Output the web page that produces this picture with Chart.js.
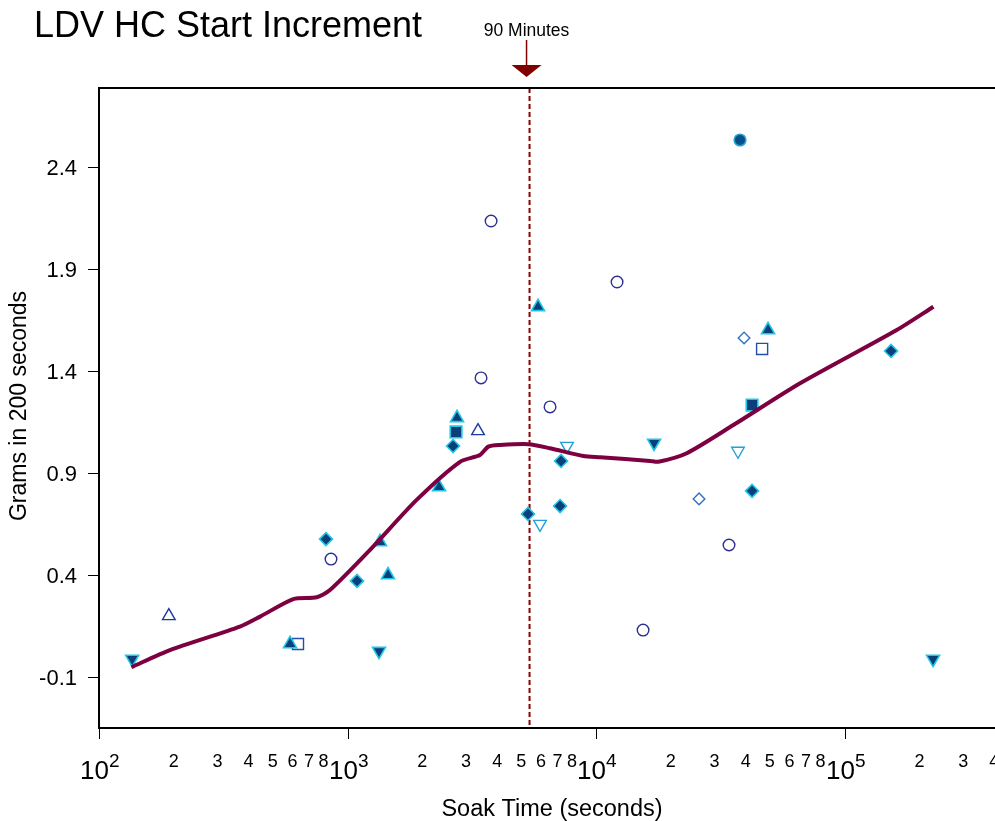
<!DOCTYPE html>
<html>
<head>
<meta charset="utf-8">
<script src="https://cdn.jsdelivr.net/npm/chart.js@4/dist/chart.umd.min.js"></script>
<style>
  body { margin: 0; background: #fff; }
  canvas { display: block; }
</style>
</head>
<body>
<canvas id="soakChart" width="995" height="821"></canvas>
<script>
// Soak time (s) vs HC start increment (g in 200 s), one array pair per marker group
const openCircleX = [858, 3445, 3781, 6530, 12150, 15460, 34280];
const openCircleY = [0.478, 1.366, 2.135, 1.224, 1.836, 0.130, 0.547];

const filledCircleX = [37960];
const filledCircleY = [2.532];

const openTriUpX = [191, 3350];
const openTriUpY = [0.199, 1.106];

const filledTriUpX = [587, 1351, 1455, 2335, 2758, 5842, 49210];
const filledTriUpY = [0.062, 0.562, 0.400, 0.831, 1.170, 1.714, 1.601];

const filledTriDownX = [136, 1339, 17120, 227000];
const filledTriDownY = [-0.012, 0.027, 1.047, -0.012];

const openTriDownX = [5950, 7640, 37240];
const openTriDownY = [0.650, 1.032, 1.008];

const filledDiamondX = [819, 1092, 2658, 5323, 7165, 7230, 42440, 153800];
const filledDiamondY = [0.576, 0.371, 1.032, 0.699, 0.738, 0.959, 0.812, 1.498];

const openDiamondX = [25970, 39410];
const openDiamondY = [0.773, 1.562];

const filledSquareX = [2733, 42440];
const filledSquareY = [1.101, 1.233];

const openSquareX = [632, 46580];
const openSquareY = [0.062, 1.508];

// smoothed trend
const curveX = [135, 193, 369, 445, 605, 752, 850, 1232, 1897, 2836, 3412, 3686, 4110, 5340, 6531, 8892, 10380, 16500, 17810, 23170, 35680, 66220, 162200, 227800];
const curveY = [-0.052, 0.032, 0.147, 0.196, 0.282, 0.291, 0.326, 0.523, 0.768, 0.955, 0.988, 1.029, 1.037, 1.041, 1.021, 0.983, 0.977, 0.959, 0.955, 0.997, 1.135, 1.340, 1.601, 1.715];

// axis ticks
const yTicks = [-0.1, 0.4, 0.9, 1.4, 1.9, 2.4];
const xDecadeExps = [2, 3, 4, 5];
const xMinorDigits = [2, 3, 4, 5, 6, 7, 8];

const markerSeconds = 5400; // 90 minutes
const markerLabel = "90 Minutes";

const FONT = "'Liberation Sans', Arial, sans-serif";
const NAVY_FILL = "#0b3f7a";
const CYAN_EDGE = "#1fc6e6";

function pts(xs, ys) {
  return xs.map((x, i) => ({ x: x, y: ys[i] }));
}

function filledSet(label, xs, ys, style, radius, rotation) {
  return {
    label: label,
    data: pts(xs, ys),
    pointStyle: style,
    pointRadius: radius,
    rotation: rotation || 0,
    backgroundColor: NAVY_FILL,
    borderColor: CYAN_EDGE,
    borderWidth: 1.6,
    showLine: false,
  };
}

function openSet(label, xs, ys, style, radius, color, rotation) {
  return {
    label: label,
    data: pts(xs, ys),
    pointStyle: style,
    pointRadius: radius,
    rotation: rotation || 0,
    backgroundColor: "rgba(255,255,255,0)",
    borderColor: color,
    borderWidth: 1.4,
    showLine: false,
  };
}

// frame, ticks, titles and the 90-minute marker
const decorations = {
  id: "decorations",
  beforeDatasetsDraw(chart) {
    const ctx = chart.ctx;
    const area = chart.chartArea;
    const xp = chart.scales.x.getPixelForValue(markerSeconds);
    ctx.save();
    ctx.strokeStyle = "#8b0000";
    ctx.lineWidth = 2;
    ctx.setLineDash([5, 3]);
    ctx.beginPath();
    ctx.moveTo(xp, area.top);
    ctx.lineTo(xp, area.bottom);
    ctx.stroke();
    ctx.restore();
  },
  afterDraw(chart) {
    const ctx = chart.ctx;
    const area = chart.chartArea;
    const xs = chart.scales.x;
    const ys = chart.scales.y;
    ctx.save();

    // frame (top, left, bottom)
    ctx.strokeStyle = "#000";
    ctx.lineWidth = 2;
    ctx.beginPath();
    ctx.moveTo(chart.width, area.top);
    ctx.lineTo(area.left, area.top);
    ctx.lineTo(area.left, area.bottom);
    ctx.lineTo(chart.width, area.bottom);
    ctx.stroke();

    // y ticks
    ctx.lineWidth = 1;
    ctx.fillStyle = "#000";
    ctx.font = "22px " + FONT;
    ctx.textAlign = "right";
    ctx.textBaseline = "middle";
    yTicks.forEach((v) => {
      const y = Math.round(ys.getPixelForValue(v)) + 0.5;
      ctx.beginPath();
      ctx.moveTo(area.left - 11, y);
      ctx.lineTo(area.left, y);
      ctx.stroke();
      ctx.fillText(v.toFixed(1), area.left - 22, y + 1);
    });

    // x ticks: decades with superscript exponents, minor digits between
    xDecadeExps.forEach((e) => {
      const x = Math.round(xs.getPixelForValue(Math.pow(10, e))) + 0.5;
      ctx.beginPath();
      ctx.moveTo(x, area.bottom);
      ctx.lineTo(x, area.bottom + 11);
      ctx.stroke();
      ctx.font = "26px " + FONT;
      ctx.textAlign = "center";
      ctx.textBaseline = "alphabetic";
      ctx.fillText("10", x - 5, area.bottom + 51);
      const w = ctx.measureText("10").width;
      ctx.font = "19px " + FONT;
      ctx.textAlign = "left";
      ctx.fillText(String(e), x - 5 + w / 2, area.bottom + 39);

      xMinorDigits.forEach((d) => {
        const v = d * Math.pow(10, e);
        if (v > xs.max * 1.01) return;
        const mx = xs.getPixelForValue(v);
        ctx.font = "18px " + FONT;
        ctx.textAlign = "center";
        ctx.fillText(String(d), mx, area.bottom + 39);
      });
    });

    // axis titles
    ctx.font = "23.5px " + FONT;
    ctx.textAlign = "center";
    ctx.textBaseline = "alphabetic";
    ctx.fillText("Soak Time (seconds)", 552, 816);

    ctx.save();
    ctx.translate(26, 406);
    ctx.rotate(-Math.PI / 2);
    ctx.font = "23px " + FONT;
    ctx.fillText("Grams in 200 seconds", 0, 0);
    ctx.restore();

    // chart title
    ctx.font = "36px " + FONT;
    ctx.textAlign = "left";
    ctx.fillText("LDV HC Start Increment", 34, 37);

    // 90-minute arrow
    const ax = xs.getPixelForValue(markerSeconds) - 3;
    ctx.font = "17.5px " + FONT;
    ctx.textAlign = "center";
    ctx.fillText(markerLabel, ax, 36);
    ctx.strokeStyle = "#800000";
    ctx.lineWidth = 1.5;
    ctx.beginPath();
    ctx.moveTo(ax, 40);
    ctx.lineTo(ax, 66);
    ctx.stroke();
    ctx.fillStyle = "#800000";
    ctx.beginPath();
    ctx.moveTo(ax - 15, 65);
    ctx.lineTo(ax + 15, 65);
    ctx.lineTo(ax, 77);
    ctx.closePath();
    ctx.fill();

    ctx.restore();
  },
};

new Chart(document.getElementById("soakChart"), {
  type: "scatter",
  data: {
    datasets: [
      {
        label: "Trend",
        type: "line",
        data: pts(curveX, curveY),
        borderColor: "#7d0040",
        borderWidth: 4,
        pointRadius: 0,
        tension: 0.25,
        fill: false,
      },
      openSet("Open circle", openCircleX, openCircleY, "circle", 5.8, "#2b2f91"),
      {
        label: "Filled circle",
        data: pts(filledCircleX, filledCircleY),
        pointStyle: "circle",
        pointRadius: 5.8,
        backgroundColor: "#00508c",
        borderColor: "#2a9fd0",
        borderWidth: 1.6,
      },
      openSet("Open triangle up", openTriUpX, openTriUpY, "triangle", 7.3, "#1c3aa0"),
      filledSet("Filled triangle up", filledTriUpX, filledTriUpY, "triangle", 7.5),
      filledSet("Filled triangle down", filledTriDownX, filledTriDownY, "triangle", 7.5, 180),
      openSet("Open triangle down", openTriDownX, openTriDownY, "triangle", 7.3, "#22a0d8", 180),
      filledSet("Filled diamond", filledDiamondX, filledDiamondY, "rectRot", 6.5),
      openSet("Open diamond", openDiamondX, openDiamondY, "rectRot", 5.8, "#3070c0"),
      filledSet("Filled square", filledSquareX, filledSquareY, "rect", 8.2),
      openSet("Open square", openSquareX, openSquareY, "rect", 7.8, "#2050a8"),
    ],
  },
  options: {
    responsive: false,
    animation: false,
    devicePixelRatio: 1,
    layout: { autoPadding: false, padding: { left: 99, top: 88, right: 0, bottom: 93 } },
    scales: {
      x: { type: "logarithmic", bounds: "data", min: 100, max: 403000, display: false },
      y: { type: "linear", min: -0.35, max: 2.787, display: false },
    },
    plugins: {
      legend: { display: false },
      tooltip: { enabled: false },
    },
  },
  plugins: [decorations],
});
</script>
</body>
</html>
